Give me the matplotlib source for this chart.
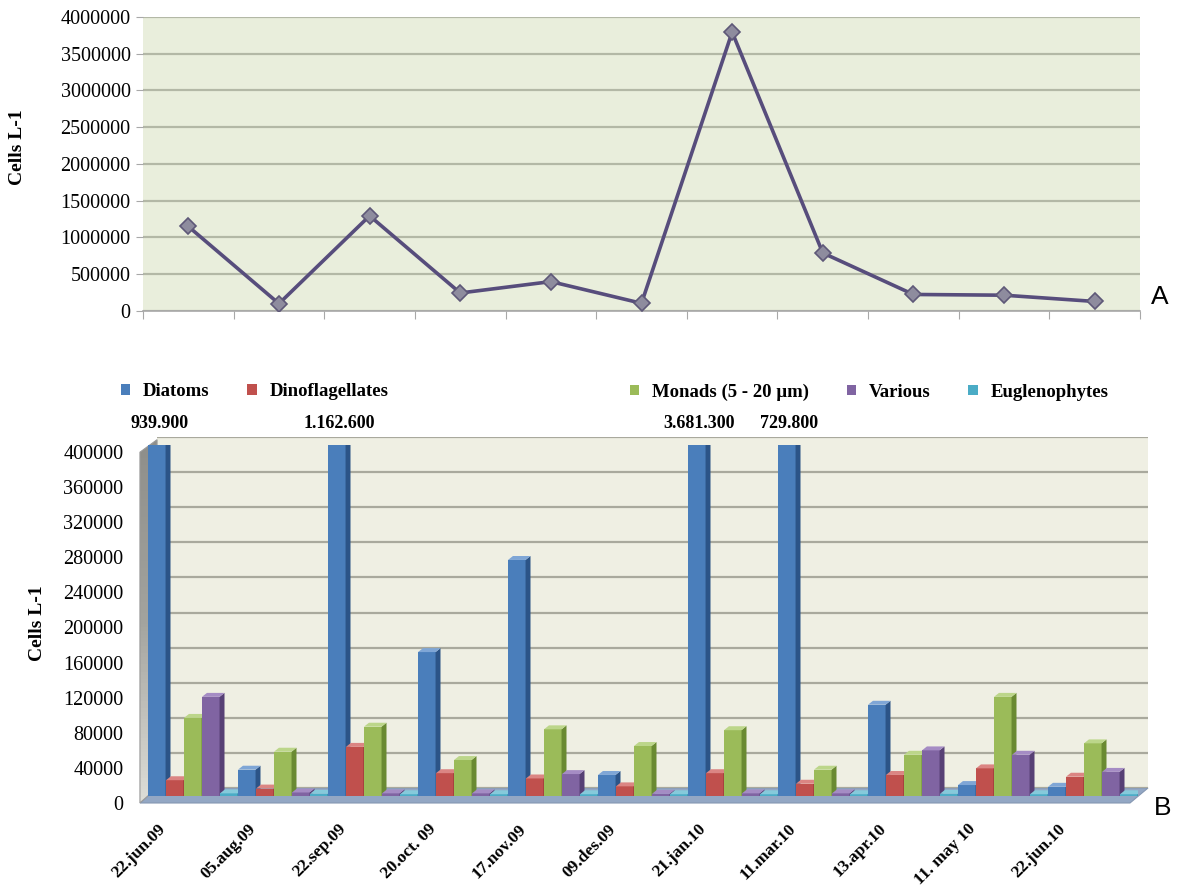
import numpy as np
import matplotlib
matplotlib.use('Agg')
import matplotlib.pyplot as plt
from matplotlib.patches import Patch, Polygon
from matplotlib.colors import LinearSegmentedColormap

plt.rcParams['font.family'] = ['Liberation Serif', 'DejaVu Serif']

# ---------- data ----------
dates = ['22.jun.09', '05.aug.09', '22.sep.09', '20.oct. 09', '17.nov.09', '09.des.09',
         '21.jan.10', '11.mar.10', '13.apr.10', '11. may 10', '22.jun.10']

# total cells per sampling date (panel A)
total_cells = [1150000, 100000, 1295000, 245000, 400000, 105000,
               3795000, 790000, 225000, 215000, 130000]

# groups (panel B)
diatoms = [939900, 30000, 1162600, 164000, 269000, 24000, 3681300, 729800, 104000, 12500, 10500]
dinoflagellates = [18000, 8500, 56000, 26000, 20000, 11000, 26000, 14000, 24000, 31500, 22000]
monads = [89000, 50500, 79000, 41000, 76000, 57000, 75000, 30000, 47000, 113000, 60000]
various = [113000, 4000, 3000, 3000, 25000, 2500, 3000, 3000, 52000, 47000, 27500]
euglenophytes = [3000, 2500, 2000, 2000, 2000, 2000, 2000, 2000, 2500, 2000, 2000]

groups = ['Diatoms', 'Dinoflagellates', 'Monads (5 - 20 µm)', 'Various', 'Euglenophytes']
group_values = [diatoms, dinoflagellates, monads, various, euglenophytes]
front_col = ['#4A7EBB', '#C0504D', '#9BBB59', '#8064A2', '#4BACC6']
side_col = ['#2C5487', '#8A2F2C', '#6A8A32', '#574075', '#2E7F96']
top_col = ['#7FA6D6', '#DB8583', '#BCD68A', '#A58CC4', '#86CADB']

W, H = 1189, 888
fig = plt.figure(figsize=(W / 100, H / 100), dpi=100)


def axes_px(x0, y0, x1, y1):
    return fig.add_axes([x0 / W, 1 - y1 / H, (x1 - x0) / W, (y1 - y0) / H])


int_fmt = lambda v, p: f'{int(v)}'

# ---------- A: line chart ----------
ax1 = axes_px(143, 17, 1140, 311)
ax1.set_facecolor('#E9EEDC')
xc = np.arange(len(dates)) + 0.5
ax1.plot(xc, total_cells, color='#574D7C', lw=2.6, marker='D', ms=8,
         mfc='#8E8C9E', mec='#5E5878', mew=1.2, zorder=3)
ax1.set_xlim(0, len(dates))
ax1.set_ylim(0, 4000000)
ax1.set_yticks(np.arange(0, 4000001, 500000))
ax1.yaxis.set_major_formatter(int_fmt)
ax1.set_xticks(np.arange(len(dates) + 1))
ax1.set_xticklabels([])
ax1.grid(axis='y', color='#B3B8A6', lw=1.6)
ax1.set_axisbelow(True)
for s in ['top', 'right', 'left']:
    ax1.spines[s].set_visible(False)
ax1.spines['bottom'].set_color('#A8A8A8')
ax1.spines['bottom'].set_linewidth(1.2)
ax1.tick_params(axis='y', length=5, color='#A8A8A8', labelsize=14.5, pad=4)
ax1.tick_params(axis='x', length=6, color='#A8A8A8')
fig.text(18 / W, 1 - 147 / H, 'Cells L-1', rotation=90, fontsize=14,
         fontweight='bold', ha='center', va='center')
fig.text(1160 / W, 1 - 297 / H, 'A', fontsize=19, family='Liberation Sans',
         ha='center', va='center')

# ---------- B: pseudo-3D clustered bars ----------
ymax = 400000
to_disp = lambda pts: [(x, H - y) for x, y in pts]

# floor of the box
fig.add_artist(Polygon(to_disp([(140, 803), (157, 788), (1148, 788), (1130, 803)]),
                       closed=True, transform=None, fc='#93A7C4', ec='#8597B2',
                       lw=0.8, zorder=-1))

# back wall with gridlines
wall = axes_px(157, 437, 1148, 788)
wall.set_facecolor('#EFEFE3')
wall.set_xlim(0, len(dates))
wall.set_ylim(0, ymax)
wall.set_yticks(np.arange(0, ymax + 1, 40000))
wall.grid(axis='y', color='#A9A99D', lw=1.6)
wall.tick_params(length=0, labelleft=False, labelbottom=False)
for s in wall.spines.values():
    s.set_visible(False)

# side wall, grey shading from top to bottom
side = axes_px(139, 436, 158, 804)
side.set_xlim(0, 1)
side.set_ylim(0, 1)
side.axis('off')
grey = LinearSegmentedColormap.from_list('grey', ['#DEDED8', '#A3A39E', '#8E8E8A'])
im = side.imshow(np.linspace(0, 1, 100).reshape(-1, 1), extent=[0, 1, 0, 1],
                 origin='lower', aspect='auto', cmap=grey)
wall_shape = Polygon([(0.05, 0.956), (0.95, 0.99), (0.95, 0.044), (0.05, 0.003)],
                     closed=True, transform=side.transAxes, fc='none', ec='#9A9A9A', lw=0.8)
side.add_patch(wall_shape)
im.set_clip_path(wall_shape)

ax2 = axes_px(148, 445, 1138, 796)
ax2.patch.set_visible(False)
ax2.set_xlim(0, len(dates))
ax2.set_ylim(0, ymax)
ax2.axis('off')

pitch, bw = 0.2, 0.195
dx, dy = 0.055, 4500
for i in range(len(dates)):
    for j, vals in enumerate(group_values):
        h = vals[i]
        xl = i + j * pitch
        z = 2 + i * 10 + j
        ax2.bar(xl, h, width=bw, align='edge', color=front_col[j], lw=0, zorder=z)
        ax2.fill([xl + bw, xl + bw, xl + bw + dx, xl + bw + dx], [0, h, h + dy, dy],
                 color=side_col[j], lw=0, zorder=z)
        ax2.fill([xl, xl + bw, xl + bw + dx, xl + dx], [h, h, h + dy, h + dy],
                 color=top_col[j], lw=0, zorder=z)
        if j == 0 and h > ymax:
            ax2.annotate(f'{h:,}'.replace(',', '.'), (xl + (bw + dx) / 2, ymax),
                         xytext=(0, 9), textcoords='offset points', ha='center',
                         va='bottom', fontsize=13, fontweight='bold',
                         annotation_clip=False)

front = axes_px(140, 452, 1130, 803)
front.patch.set_visible(False)
front.set_xlim(0, len(dates))
front.set_ylim(0, ymax)
front.set_yticks(np.arange(0, ymax + 1, 40000))
front.yaxis.set_major_formatter(int_fmt)
front.set_xticks(xc - 0.3)
front.set_xticklabels(dates, rotation=45, ha='right', va='top',
                      rotation_mode='anchor', fontsize=12.5, fontweight='bold')
front.tick_params(axis='y', length=0, labelsize=14.5, pad=12)
front.tick_params(axis='x', length=0, pad=13)
for s in front.spines.values():
    s.set_visible(False)

fig.text(37 / W, 1 - 623 / H, 'Cells L-1', rotation=90, fontsize=14,
         fontweight='bold', ha='center', va='center')
fig.text(1163 / W, 1 - 808 / H, 'B', fontsize=19, family='Liberation Sans',
         ha='center', va='center')

# legend split in two groups
handles = [Patch(fc=c, ec='none') for c in front_col]
leg_kw = dict(frameon=False, prop={'weight': 'bold', 'size': 13.5}, handlelength=0.5,
              handleheight=0.5, handletextpad=0.7, columnspacing=2.0, borderaxespad=0)
fig.legend(handles[:2], groups[:2], loc='center left',
           bbox_to_anchor=(113 / W, 1 - 392 / H), ncol=2, **leg_kw)
fig.legend(handles[2:], groups[2:], loc='center left',
           bbox_to_anchor=(622 / W, 1 - 392 / H), ncol=3, **leg_kw)

fig.savefig('out.png', dpi=100)
